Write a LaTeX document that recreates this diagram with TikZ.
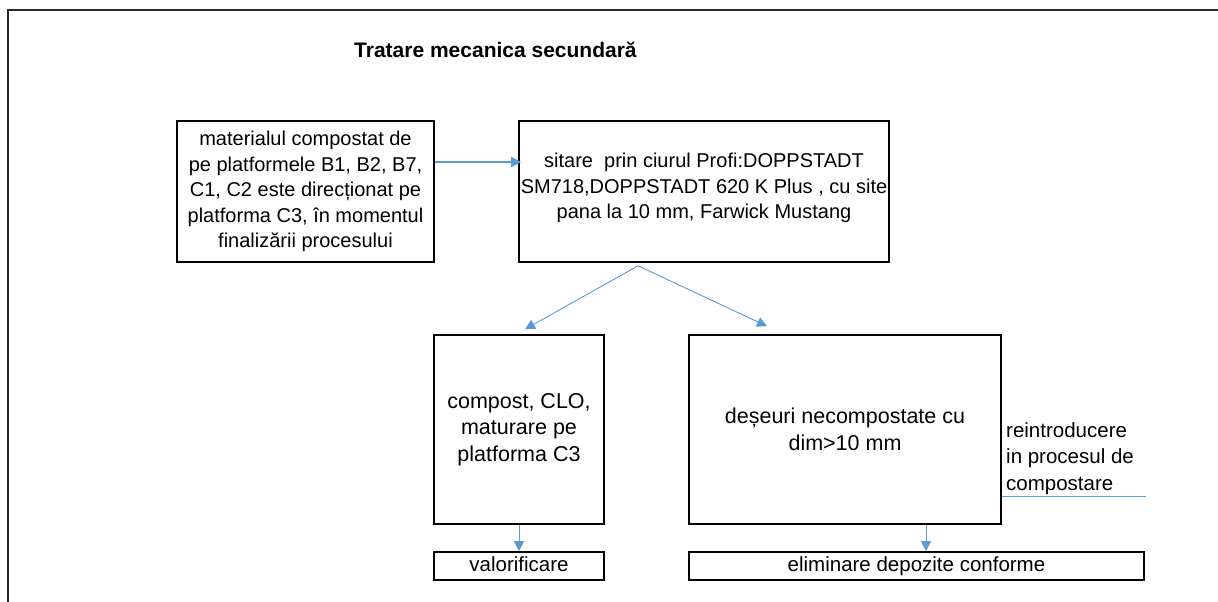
\documentclass[tikz,border=0pt]{standalone}
\usepackage{fontspec}
\setmainfont{Liberation Sans}
\usetikzlibrary{arrows.meta}
\definecolor{linkblue}{HTML}{5B9BD5}
\begin{document}
\begin{tikzpicture}[x=1pt,y=-1pt,
  txt/.style={font=\fontsize{20}{25.5}\selectfont},
  bigtxt/.style={font=\fontsize{21.5}{26.5}\selectfont},
  smalltxt/.style={font=\fontsize{20.5}{26.5}\selectfont},
  box/.style={draw,line width=1.6pt,inner sep=0pt,align=center},
  strip/.style={box,smalltxt,minimum height=28pt,text height=15pt,text depth=4pt},
  link/.style={draw=linkblue,line width=0.9pt,-{Triangle[length=10pt,width=10pt]}},
]
\useasboundingbox (0,0) rectangle (1218,602);

% page frame
\draw[line width=1.8pt,draw=black!85] (8,602) -- (8,10) -- (1218,10);

% heading
\node[font=\fontsize{21}{25}\selectfont\bfseries,anchor=base west,inner sep=0pt] (title) at (354,58) {Tratare mecanica secundară};

% process boxes
\node[box,txt,minimum width=257pt,minimum height=141pt] (A) at (305.5,191.5)
  {materialul compostat de\\pe platformele B1, B2, B7,\\C1, C2 este direcționat pe\\platforma C3, în momentul\\finalizării procesului};
\node[box,minimum width=370pt,minimum height=141pt] (B) at (704,191.5) {};
\node[txt,align=center,inner sep=0pt] (Btext) at (704,188)
  {sitare\ \ prin ciurul Profi:DOPPSTADT\\SM718,DOPPSTADT 620 K Plus , cu site\\pana la 10 mm, Farwick Mustang};
\node[box,bigtxt,minimum width=170pt,minimum height=189pt] (C) at (519,429.5)
  {compost, CLO,\\maturare pe\\platforma C3};
\node[box,bigtxt,minimum width=312pt,minimum height=189pt] (D) at (845,429.5)
  {deșeuri necompostate cu\\dim>10 mm};
\node[strip,minimum width=170pt] (E) at (519,566) {valorificare};
\node[strip,minimum width=455pt] (F) at (916.5,566) {eliminare depozite conforme};

% side note
\node[smalltxt,align=left,inner sep=0pt,anchor=north west] (note) at (1006,422)
  {reintroducere\\in procesul de\\compostare};
\coordinate (noteend) at (1146,496);

% connectors
\draw[link,line width=1.3pt] ([yshift=29.5pt]A.east) -- ([yshift=29.5pt,xshift=3pt]B.west);
\draw[link] ([xshift=-66pt,yshift=-3pt]B.south) -- ([xshift=6pt,yshift=5pt]C.north);
\draw[link] ([xshift=-66pt,yshift=-3pt]B.south) -- ([xshift=-78pt,yshift=8pt]D.north);
\draw[link] (C.south) -- (E.north);
\draw[link] ([xshift=81pt]D.south) -- ([xshift=81pt]D.south |- F.north);
\draw[draw=linkblue,line width=0.9pt] ([yshift=-66.5pt]D.east) -- (noteend);
\end{tikzpicture}
\end{document}
